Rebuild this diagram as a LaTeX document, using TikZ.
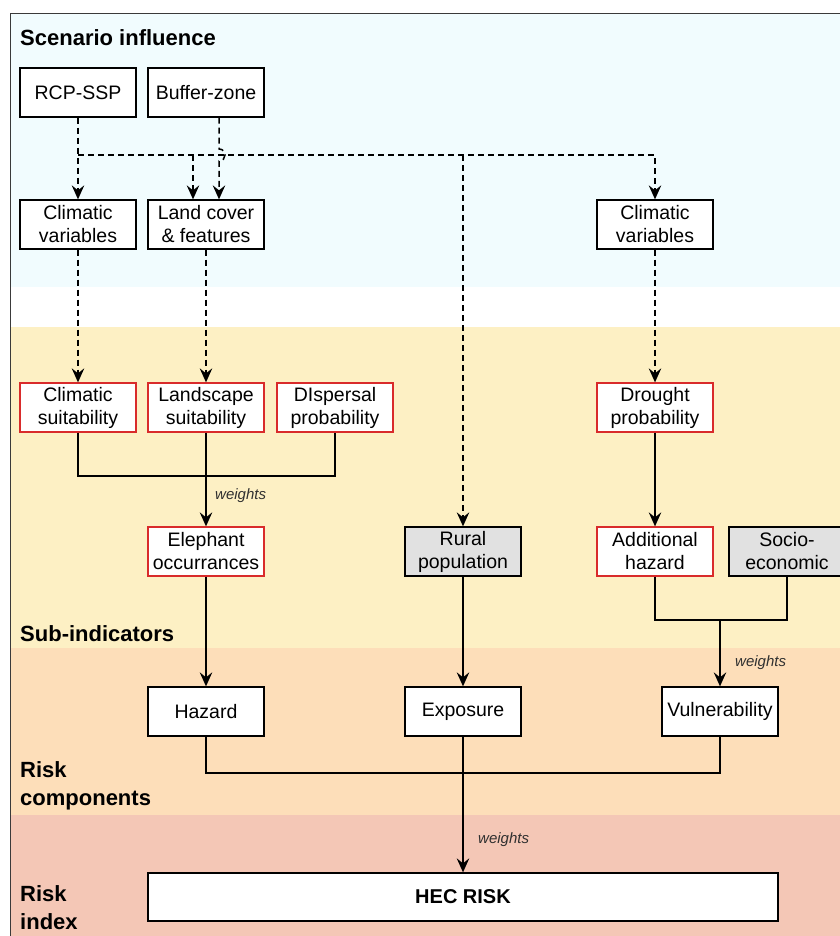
\documentclass[tikz,border=0pt]{standalone}
\usepackage{fontspec}
\setmainfont{Liberation Sans}
\usetikzlibrary{arrows.meta}

\definecolor{bandScen}{HTML}{F1FCFE}
\definecolor{bandSub}{HTML}{FDF0C4}
\definecolor{bandComp}{HTML}{FDDEB9}
\definecolor{bandIdx}{HTML}{F4C7B6}
\definecolor{redline}{HTML}{D92B2B}
\definecolor{grayfill}{HTML}{E1E1E1}
\definecolor{frameline}{HTML}{3A3A3A}
\definecolor{wtext}{HTML}{303030}

\tikzset{
  box/.style={draw=black, fill=white, line width=1.3bp, minimum width=116bp,
    minimum height=49bp, inner sep=0pt, align=center,
    font=\fontsize{19.5bp}{23bp}\selectfont},
  rbox/.style={box, draw=redline},
  gbox/.style={box, fill=grayfill},
  conn/.style={line width=1.5bp, black},
  flow/.style={conn, -{Stealth[length=14bp,width=12.5bp,inset=5bp]}},
  scen/.style={dash pattern=on 6bp off 4bp},
  head/.style={font=\fontsize{22bp}{27.5bp}\selectfont\bfseries, inner sep=0pt,
    align=left},
  wlabel/.style={font=\fontsize{15bp}{18bp}\selectfont\itshape, text=wtext,
    inner sep=0pt}
}

\begin{document}
\begin{tikzpicture}[x=1bp,y=-1bp]
\clip (0,0) rectangle (840,936);
\fill[white] (0,0) rectangle (840,936);

% background bands
\fill[bandScen] (11,13) rectangle (850,287);
\fill[bandSub]  (11,327) rectangle (850,648);
\fill[bandComp] (11,648) rectangle (850,815);
\fill[bandIdx]  (11,815) rectangle (850,940);
\draw[frameline, line width=1bp] (10.5,940) -- (10.5,13.5) -- (850,13.5);

% band headings (anchored on the baseline of the last line)
\node[head, anchor=base west] (hScen) at (20,45) {Scenario influence};
\node[head, anchor=base west] (hSub) at (20,641) {Sub-indicators};
\node[head, anchor=base west] (hComp) at (20,805) {Risk\\components};
\node[head, anchor=base west] (hIdx) at (20,929) {Risk\\index};

% scenario inputs
\node[box] (rcp) at (78,92.5) {RCP-SSP};
\node[box] (buf) at (206,92.5) {Buffer-zone};
\node[box] (clA) at (78,224.5) {Climatic\\variables};
\node[box] (land) at (206,224.5) {Land cover\\\& features};
\node[box] (clB) at (655,224.5) {Climatic\\variables};

% sub-indicators
\node[rbox] (cs) at (78,407.5) {Climatic\\suitability};
\node[rbox] (ls) at (206,407.5) {Landscape\\suitability};
\node[rbox] (ds) at (335,407.5) {DIspersal\\probability};
\node[rbox] (dr) at (655,407.5) {Drought\\probability};
\node[rbox] (eleph) at (206,551.5) {Elephant\\occurrances};
\node[gbox] (rural) at (463,551.5) {Rural\\population};
\node[rbox] (add) at (655,551.5) {Additional\\hazard};
\node[gbox] (soc) at (787,551.5) {Socio-\\economic};

% risk components and index
\node[box] (haz) at (206,711.5) {Hazard};
\node[box] (expo) at (463,711.5) {Exposure};
\node[box] (vul) at (720,711.5) {Vulnerability};
\node[box, minimum width=630bp, minimum height=48bp,
  font=\fontsize{20bp}{24bp}\selectfont\bfseries] (hec) at (463,897) {HEC RISK};

% scenario links (dashed)
\coordinate (split) at (78,155);
\coordinate (toLand) at (193,155);
\coordinate (toRural) at (463,155);
\coordinate (hopA) at (219,149);
\coordinate (hopB) at (219,161);
\draw[flow, scen] (rcp.south) -- (clA.north);
\draw[flow, scen] (split) -| (clB.north);
\draw[flow, scen] (toLand) -- (toLand |- land.north);
\draw[flow, scen] (toRural) -- (rural.north);
\draw[flow, scen] ([xshift=13bp]buf.south) -- (hopA)
  .. controls +(8,0) and +(8,0) .. (hopB) -- ([xshift=13bp]land.north);
\draw[flow, scen] (clA.south) -- (cs.north);
\draw[flow, scen] (land.south) -- (ls.north);
\draw[flow, scen] (clB.south) -- (dr.north);

% aggregation links (solid)
\coordinate (mergeA) at (206,476);
\draw[conn] (cs.south) |- (mergeA) -| (ds.south);
\draw[flow] (ls.south) -- (eleph.north);
\node[wlabel, anchor=west] (wA) at (215,496) {weights};
\draw[flow] (dr.south) -- (add.north);

\coordinate (mergeB) at (720,620);
\draw[conn] (add.south) |- (mergeB) -| (soc.south);
\draw[flow] (mergeB) -- (vul.north);
\node[wlabel, anchor=west] (wB) at (735,663) {weights};

\draw[flow] (eleph.south) -- (haz.north);
\draw[flow] (rural.south) -- (expo.north);

\coordinate (mergeC) at (463,773);
\draw[conn] (haz.south) |- (mergeC) -| (vul.south);
\draw[flow] (expo.south) -- (hec.north);
\node[wlabel, anchor=west] (wC) at (478,840) {weights};
\end{tikzpicture}
\end{document}
